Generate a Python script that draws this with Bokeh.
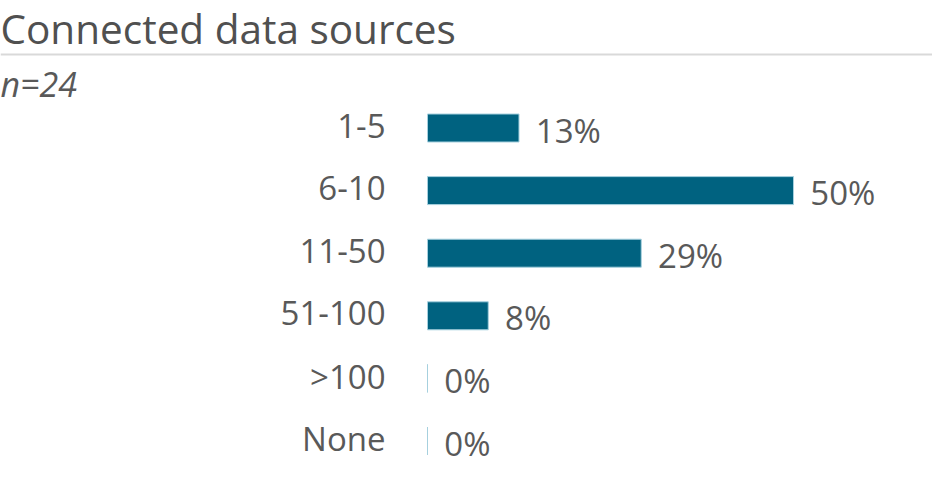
from bokeh.plotting import figure
from bokeh.models import Range1d, Label, Span, ColumnDataSource
from bokeh.core.properties import value
from bokeh.embed import file_html
from bokeh.resources import INLINE

# ---- data ----
title_text = "Connected data sources"
subtitle_text = "n=24"
categories = ["1-5", "6-10", "11-50", "51-100", ">100", "None"]
percents = [12.5, 50.0, 29.2, 8.3, 0.0, 0.0]
pct_labels = ["13%", "50%", "29%", "8%", "0%", "0%"]

FONT = "Open Sans"
TXT = "#595959"
BAR = "#006280"
BAR_EDGE = "#a6d0de"

W, H = 932, 466
PX_PER_UNIT = 7.32      # px per percent
ZERO_PX = 427           # px of 0%
ROW = 62.6              # px per category row
FIRST_ROW_PX = 127.5    # px of first row centre (from top)
SHIFT = 14              # svg alphabetic baseline compensation (px)

x0 = -ZERO_PX / PX_PER_UNIT
x1 = (W - ZERO_PX) / PX_PER_UNIT
y_top = -FIRST_ROW_PX / ROW
y_bot = (H - FIRST_ROW_PX) / ROW

ypos = list(range(len(categories)))
src = ColumnDataSource(dict(
    y=ypos,
    pct=percents,
    cat=categories,
    lab=pct_labels,
    cat_y=[v + (11.6 - SHIFT) / ROW for v in ypos],
    val_y=[v + (16 - SHIFT) / ROW for v in ypos],
    val_x=[p + 2.3 for p in percents],
))

p = figure(width=W, height=H, output_backend="svg", toolbar_location=None,
           x_range=Range1d(x0, x1), y_range=Range1d(y_bot, y_top),
           min_border=0)
p.axis.visible = False
p.grid.visible = False
p.outline_line_color = None
p.background_fill_color = "white"
p.border_fill_color = "white"

p.hbar(y="y", left=0, right="pct", height=28 / ROW, source=src,
       fill_color=BAR, line_color=BAR_EDGE, line_width=1)

p.text(x=(385 - ZERO_PX) / PX_PER_UNIT, y="cat_y", text="cat", source=src,
       text_align="right", text_baseline="alphabetic", text_font=value(FONT),
       text_font_size="33px", text_color=TXT)

p.text(x="val_x", y="val_y", text="lab", source=src, text_align="left",
       text_baseline="alphabetic", text_font=value(FONT),
       text_font_size="33px", text_color=TXT)

# title, separator, subtitle
p.add_layout(Label(x=0, y=H - (43 - 15), x_units="screen", y_units="screen",
                   text=title_text, text_font=FONT, text_font_size="40.5px",
                   text_color="#505050", text_baseline="alphabetic"))
p.add_layout(Span(location=y_top + 54 / ROW, dimension="width",
                  line_color="#d9d9d9", line_width=2))
p.add_layout(Label(x=0, y=H - (97 - SHIFT), x_units="screen", y_units="screen",
                   text=subtitle_text, text_font=FONT, text_font_size="34px",
                   text_font_style="italic", text_color=TXT,
                   text_baseline="alphabetic"))

open("out.html", "w").write(file_html(p, INLINE))
